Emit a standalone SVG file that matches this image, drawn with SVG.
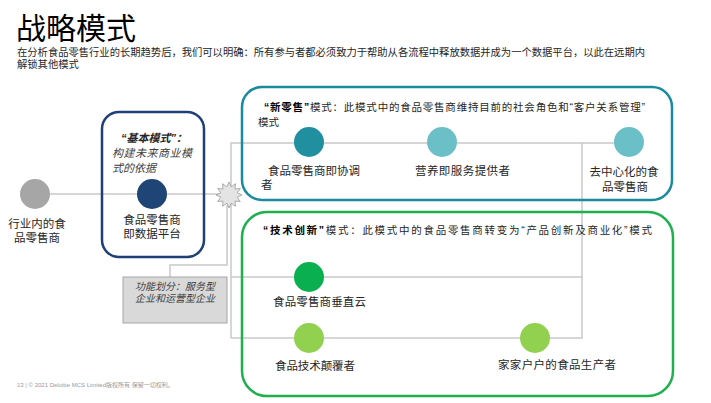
<svg xmlns="http://www.w3.org/2000/svg" width="711" height="403" viewBox="0 0 711 403">
<style>
text{font-family:"Liberation Sans","Noto Sans CJK SC",sans-serif;fill:#262626}
.t{font-size:11.5px}
.c{text-anchor:middle}
.ln{fill:none;stroke:#c9c9c9;stroke-width:1.5}
.hd{font-size:10.5px}
</style>
<rect width="711" height="403" fill="#fff"/>
<text x="16" y="39" style="font-size:30px;fill:#000">战略模式</text>
<text x="17" y="56" style="font-size:10.3px" textLength="628">在分析食品零售行业的长期趋势后，我们可以明确：所有参与者都必须致力于帮助从各流程中释放数据并成为一个数据平台，以此在远期内</text>
<text x="17" y="68" style="font-size:10.3px">解锁其他模式</text>

<g id="connectors">
<path class="ln" d="M50,194 H229"/>
<path class="ln" d="M231,338 V143 H629"/>
<path class="ln" d="M231,277 H582"/>
<path class="ln" d="M231,338 H582 V143"/>
<path class="ln" d="M227,205 V265 H170 V277"/>
</g>

<g id="burst">
<polygon points="242,195 237.2,197.2 240.3,201.5 235,201 235.5,206.3 231.2,203.2 229,208 226.8,203.2 222.5,206.3 223,201 217.7,201.5 220.8,197.2 216,195 220.8,192.8 217.7,188.5 223,189 222.5,183.7 226.8,186.8 229,182 231.2,186.8 235.5,183.7 235,189 240.3,188.5 237.2,192.8" fill="#e4e4e4" stroke="#9a9a9a" stroke-width="0.8"/>
</g>

<g id="n-industry">
<circle cx="35" cy="194" r="15" fill="#a6a6a6"/>
<text class="t c" x="37" y="228">行业内的食</text>
<text class="t c" x="37" y="242">品零售商</text>
</g>

<g id="basic-box">
<rect x="102" y="112" width="102" height="145" rx="17" fill="none" stroke="#1f3f78" stroke-width="2.5"/>
<text x="121" y="142" style="font-size:11px;font-weight:bold;font-style:italic;fill:#262626">“基本模式”：</text>
<text x="112" y="157" style="font-size:11px;font-style:italic;fill:#404040" textLength="80">构建未来商业模</text>
<text x="112" y="172" style="font-size:11px;font-style:italic;fill:#404040">式的依据</text>
</g>

<g id="n-platform">
<circle cx="152" cy="194" r="15" fill="#1f4476"/>
<text class="t c" x="152" y="224">食品零售商</text>
<text class="t c" x="152" y="238">即数据平台</text>
</g>

<g id="function-box">
<rect x="123" y="277" width="104" height="46" fill="#d9d9d9" stroke="#a6a6a6" stroke-width="1"/>
<text class="c" x="175" y="290" style="font-size:10px;font-style:italic;fill:#404040">功能划分：服务型</text>
<text class="c" x="175" y="302" style="font-size:10px;font-style:italic;fill:#404040">企业和运营型企业</text>
</g>

<g id="new-retail-box">
<rect x="242" y="87" width="430" height="113" rx="20" fill="none" stroke="#1a8a9e" stroke-width="2.5"/>
<text class="hd" x="264" y="111" textLength="381"><tspan style="font-weight:bold;fill:#000">“新零售”</tspan>模式：此模式中的食品零售商维持目前的社会角色和“客户关系管理”</text>
<text class="hd" x="258" y="126">模式</text>
</g>

<g id="n-coordinator">
<circle cx="309" cy="142" r="15" fill="#208fa0"/>
<text class="t" x="268" y="175" textLength="92">食品零售商即协调</text>
<text class="t" x="261" y="189">者</text>
</g>

<g id="n-nutrition">
<circle cx="442" cy="142" r="15" fill="#6bc0c8"/>
<text class="t" x="415" y="175" textLength="95">营养即服务提供者</text>
</g>

<g id="n-decentral">
<circle cx="629" cy="142" r="15" fill="#6bc0c8"/>
<text class="t c" x="624" y="176">去中心化的食</text>
<text class="t c" x="625" y="191">品零售商</text>
</g>

<g id="tech-box">
<rect x="242" y="212" width="431" height="184" rx="25" fill="none" stroke="#1db04c" stroke-width="2.5"/>
<text class="hd" x="263" y="234" textLength="389"><tspan style="font-weight:bold;fill:#000">“技术创新”</tspan>模式：此模式中的食品零售商转变为“产品创新及商业化”模式</text>
</g>

<g id="n-vertical">
<circle cx="309" cy="277" r="15" fill="#0aaf4f"/>
<text class="t" x="273" y="306" textLength="93">食品零售商垂直云</text>
</g>

<g id="n-disruptor">
<circle cx="309" cy="338" r="15" fill="#92d050"/>
<text class="t" x="275" y="370" textLength="80">食品技术颠覆者</text>
</g>

<g id="n-household">
<circle cx="535" cy="338" r="15" fill="#92d050"/>
<text class="t" x="498" y="369" textLength="118">家家户户的食品生产者</text>
</g>

<text x="17" y="387" style="font-size:6px;fill:#999">13 |  © 2021 Deloitte MCS Limited版权所有 保留一切权利。</text>
</svg>
